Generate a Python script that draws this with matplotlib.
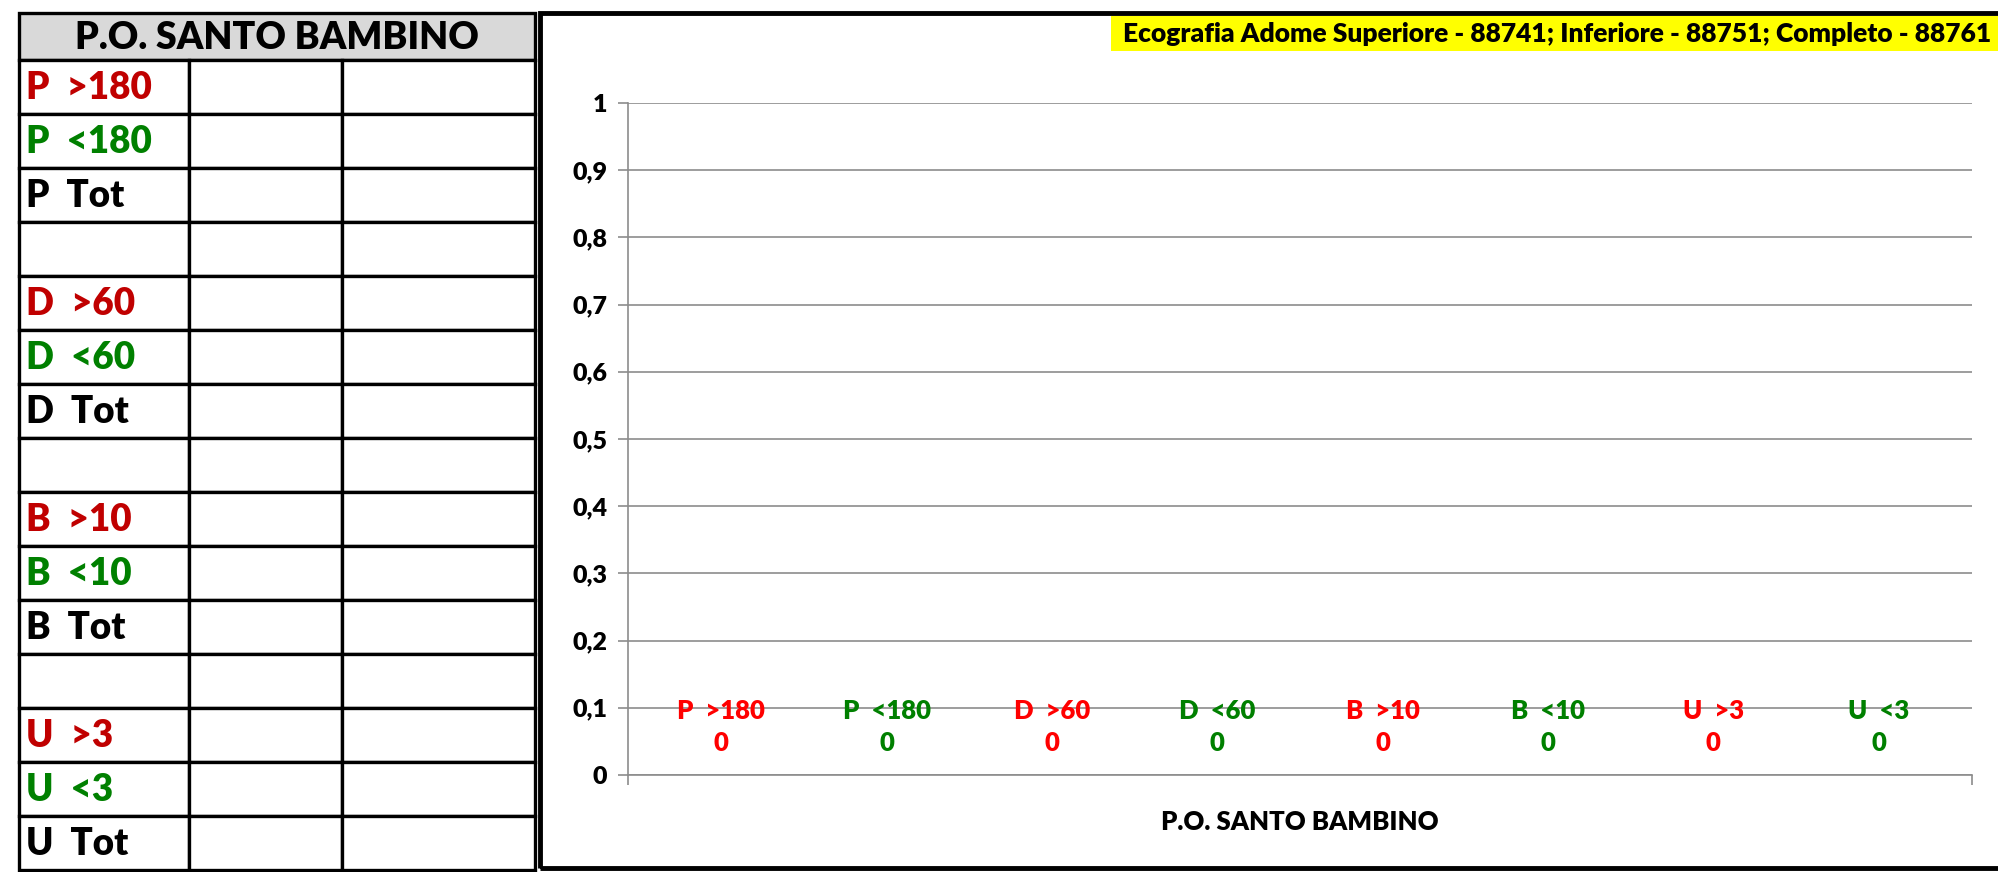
import numpy as np
import matplotlib
matplotlib.use("Agg")
from matplotlib import pyplot as plt
from matplotlib.patches import Rectangle

plt.rcParams["font.family"] = ["Lato", "DejaVu Sans"]
plt.rcParams["font.weight"] = "heavy"

# data
site = "P.O. SANTO BAMBINO"
title = "Ecografia Adome Superiore - 88741; Inferiore - 88751; Completo - 88761"
series = ["P  >180", "P  <180", "D  >60", "D  <60", "B  >10", "B  <10", "U  >3", "U  <3"]
values = [0, 0, 0, 0, 0, 0, 0, 0]
series_colors = ["#FF0000", "#008000"] * 4
yticks = [0, 0.1, 0.2, 0.3, 0.4, 0.5, 0.6, 0.7, 0.8, 0.9, 1]
ytick_labels = ["0", "0,1", "0,2", "0,3", "0,4", "0,5", "0,6", "0,7", "0,8", "0,9", "1"]

table_rows = ["P  >180", "P  <180", "P  Tot", "",
              "D  >60", "D  <60", "D  Tot", "",
              "B  >10", "B  <10", "B  Tot", "",
              "U  >3", "U  <3", "U  Tot"]
table_colors = ["#C00000", "#008000", "black", "black"] * 4

W, H = 1998, 872
fig = plt.figure(figsize=(W / 100, H / 100), dpi=100)


def fx(px):
    return px / W


def fy(px):
    return 1 - px / H


# ---- left table ----
tx0, tx1, ty0, ty1 = 19, 535, 13, 870
tab = fig.add_axes([fx(tx0), fy(ty1), fx(tx1 - tx0), (ty1 - ty0) / H])
tab.set_xlim(0, tx1 - tx0)
tab.set_ylim(ty1 - ty0, 0)
tab.axis("off")
head_h = 47
row_h = (ty1 - ty0 - head_h) / len(table_rows)
col_edges = [0, 170, 323, tx1 - tx0]
tab.add_patch(Rectangle((0, 0), col_edges[-1], head_h, facecolor="#D9D9D9",
                        edgecolor="black", lw=2.4, clip_on=False))
tab.text(col_edges[-1] / 2, head_h / 2 + 1, site, ha="center", va="center",
         fontsize=27, color="black")
for i, (lab, col) in enumerate(zip(table_rows, table_colors)):
    y0 = head_h + i * row_h
    for c0, c1 in zip(col_edges[:-1], col_edges[1:]):
        tab.add_patch(Rectangle((c0, y0), c1 - c0, row_h, facecolor="white",
                                edgecolor="black", lw=2.4, clip_on=False))
    tab.text(7, y0 + row_h / 2 + 1, lab, ha="left", va="center",
             fontsize=26.5, color=col)

# ---- chart frame ----
fig.patches.append(Rectangle((fx(540), fy(868)), fx(W + 20 - 540), (868 - 13) / H,
                             transform=fig.transFigure, facecolor="none",
                             edgecolor="black", lw=3.5))
fig.patches.append(Rectangle((fx(1111), fy(51)), fx(W - 1111), 35 / H,
                             transform=fig.transFigure, facecolor="#FFFF00",
                             edgecolor="none"))
fig.text(fx(1991), fy(34), title, ha="right", va="center", fontsize=19, color="black")

# ---- plot area ----
ax = fig.add_axes([fx(628), fy(775), fx(1972 - 628), (775 - 103) / H])
n = len(series)
bw = 0.123
xs = (np.arange(n) - (n - 1) / 2) * bw
ax.bar(xs, values, width=bw * 0.8, color=series_colors)
for x, v, name, col in zip(xs, values, series, series_colors):
    ax.annotate(name, (x, v), xytext=(0, 46), textcoords="offset points",
                ha="center", va="center", fontsize=18.5, color=col)
    ax.annotate(f"{v}", (x, v), xytext=(0, 23), textcoords="offset points",
                ha="center", va="center", fontsize=18.5, color=col)

ax.set_xlim(-0.5, 0.5)
ax.set_ylim(0, 1)
ax.set_yticks(yticks)
ax.set_yticklabels(ytick_labels, fontsize=18, fontweight="heavy")
ax.set_xticks([-0.5, 0.5])
ax.set_xticklabels(["", ""])
ax.tick_params(axis="both", direction="out", length=7, width=1.2, color="#8C8C8C", pad=8)
ax.grid(axis="y", color="#8C8C8C", lw=1.2)
ax.set_axisbelow(True)
for s in ["top", "right"]:
    ax.spines[s].set_visible(False)
for s in ["left", "bottom"]:
    ax.spines[s].set_color("#8C8C8C")
    ax.spines[s].set_linewidth(1.2)
ax.set_xlabel(site, fontsize=18.5, fontweight="heavy", va="center")
ax.xaxis.set_label_coords(0.5, -0.07)

fig.savefig("out.png", dpi=100)
